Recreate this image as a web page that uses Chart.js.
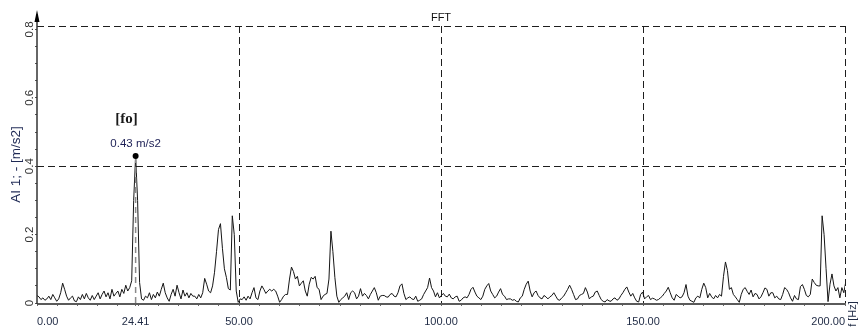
<!DOCTYPE html>
<html>
<head>
<meta charset="utf-8">
<script src="https://cdn.jsdelivr.net/npm/chart.js@4.4.1/dist/chart.umd.min.js"></script>
<style>
  html, body { margin: 0; padding: 0; background: #ffffff; }
  canvas { display: block; }
</style>
</head>
<body>
<canvas id="fft" width="859" height="331"></canvas>
<script>
// FFT spectrum of channel AI 1, bin spacing in Hz
const binHz = 0.48828125;

// amplitude per bin [m/s2], bins 0 .. 410
const amplitude = [
  0.022,0.018,0.010,0.015,0.008,0.012,0.020,0.010,0.025,0.015,0.005,0.012,0.030,0.058,0.040,0.020,0.008,0.015,0.020,0.006,
  0.004,0.018,0.010,0.025,0.012,0.028,0.015,0.008,0.022,0.010,0.020,0.030,0.012,0.025,0.035,0.018,0.030,0.012,0.040,0.020,
  0.028,0.035,0.018,0.040,0.028,0.052,0.035,0.045,0.065,0.300,0.430,0.300,0.060,0.012,0.008,0.020,0.015,0.030,0.010,0.025,
  0.015,0.032,0.020,0.040,0.058,0.030,0.015,0.005,0.025,0.040,0.020,0.052,0.030,0.012,0.038,0.020,0.030,0.015,0.028,0.020,
  0.020,0.012,0.025,0.015,0.030,0.072,0.055,0.035,0.030,0.050,0.090,0.150,0.215,0.232,0.160,0.100,0.075,0.042,0.038,0.255,
  0.200,0.035,0.002,0.012,0.010,0.018,0.008,0.020,0.012,0.030,0.045,0.015,0.010,0.035,0.050,0.040,0.028,0.035,0.040,0.035,
  0.040,0.035,0.020,0.002,0.010,0.020,0.025,0.025,0.070,0.105,0.092,0.070,0.078,0.050,0.058,0.065,0.035,0.020,0.055,0.075,
  0.070,0.078,0.045,0.040,0.010,0.020,0.025,0.028,0.070,0.210,0.150,0.075,0.020,0.002,0.010,0.015,0.020,0.030,0.010,0.030,
  0.035,0.030,0.012,0.020,0.042,0.020,0.028,0.022,0.012,0.025,0.035,0.045,0.030,0.008,0.020,0.022,0.022,0.018,0.017,0.025,
  0.028,0.020,0.018,0.030,0.050,0.056,0.028,0.010,0.015,0.018,0.012,0.010,0.020,0.005,0.008,0.012,0.025,0.035,0.045,0.073,
  0.045,0.035,0.018,0.030,0.015,0.022,0.028,0.020,0.018,0.026,0.015,0.012,0.018,0.020,0.005,0.008,0.015,0.018,0.015,0.025,
  0.040,0.046,0.032,0.020,0.015,0.010,0.020,0.040,0.050,0.057,0.035,0.025,0.015,0.020,0.032,0.042,0.025,0.020,0.010,0.012,
  0.012,0.008,0.010,0.005,0.003,0.015,0.020,0.040,0.055,0.064,0.035,0.018,0.030,0.035,0.022,0.015,0.012,0.022,0.018,0.012,
  0.018,0.022,0.030,0.020,0.010,0.008,0.015,0.020,0.030,0.040,0.052,0.040,0.025,0.010,0.012,0.022,0.025,0.028,0.045,0.032,
  0.012,0.018,0.020,0.032,0.035,0.022,0.010,0.005,0.003,0.010,0.006,0.005,0.012,0.015,0.008,0.012,0.022,0.030,0.040,0.047,
  0.032,0.020,0.028,0.015,0.005,0.003,0.025,0.032,0.012,0.018,0.022,0.010,0.014,0.012,0.008,0.010,0.015,0.020,0.028,0.035,
  0.046,0.030,0.015,0.008,0.025,0.020,0.015,0.018,0.030,0.054,0.020,0.008,0.005,0.002,0.015,0.020,0.015,0.040,0.058,0.045,
  0.015,0.028,0.018,0.012,0.022,0.015,0.025,0.020,0.078,0.120,0.095,0.040,0.045,0.025,0.018,0.010,0.002,0.025,0.040,0.045,
  0.034,0.025,0.038,0.018,0.028,0.025,0.012,0.018,0.030,0.044,0.040,0.020,0.030,0.030,0.015,0.020,0.012,0.010,0.025,0.045,
  0.040,0.030,0.015,0.005,0.022,0.012,0.010,0.048,0.054,0.040,0.022,0.018,0.025,0.070,0.060,0.052,0.050,0.050,0.255,0.200,
  0.100,0.004,0.055,0.085,0.050,0.035,0.045,0.015,0.045,0.030,0.062
];

// cursor on the fundamental
const peakFreq = 24.41;
const peakAmp = 0.43;
const peakUnit = 'm/s2';
const peakTag = '[fo]';

// axes
const xMin = 0, xMax = 200, xMinorStep = 5;
const xLabelValues = [0, 24.41, 50, 100, 150, 200];
const xTickLabels = ['0.00', '24.41', '50.00', '100.00', '150.00', '200.00'];
const xGridValues = [50, 100, 150, 200];
const yMin = 0, yMax = 0.81, yMinorStep = 0.05;
const yLabelValues = [0, 0.2, 0.4, 0.6, 0.8];
const yTickLabels = ['0', '0.2', '0.4', '0.6', '0.8'];
const yGridValues = [0.4, 0.81];
const chartTitle = 'FFT';
const yTitle = 'AI 1; - [m/s2]';
const xTitle = 'f [Hz]';

const near = (a, b) => Math.abs(a - b) < 1e-6;
const indexIn = (v, list) => list.findIndex(w => near(v, w));

function minorTicks(lo, hi, step, extra) {
  const out = [];
  for (let k = 0; lo + k * step <= hi + 1e-9; k++) out.push(+(lo + k * step).toFixed(4));
  extra.forEach(v => { if (indexIn(v, out) < 0) out.push(v); });
  return out.sort((a, b) => a - b);
}
const xTickValues = minorTicks(xMin, xMax, xMinorStep, [peakFreq]);
const yTickValues = minorTicks(yMin, 0.8, yMinorStep, [yMax]);

const spectrum = amplitude.map((a, i) => ({ x: i * binHz, y: a }));

const FONT = 'Liberation Sans, Arial, sans-serif';

const decorations = {
  id: 'decorations',
  afterDraw(chart) {
    const { ctx, chartArea: ca, scales: { x, y } } = chart;
    ctx.save();
    // axis lines
    ctx.strokeStyle = '#5a5a5a';
    ctx.lineWidth = 2;
    ctx.beginPath();
    ctx.moveTo(ca.left, ca.bottom + 1);
    ctx.lineTo(ca.right, ca.bottom + 1);
    ctx.stroke();
    ctx.strokeStyle = '#333';
    ctx.lineWidth = 1.5;
    ctx.beginPath();
    ctx.moveTo(ca.left, ca.bottom + 1);
    ctx.lineTo(ca.left, 14);
    ctx.stroke();
    // arrow head on the value axis
    ctx.fillStyle = '#000';
    ctx.beginPath();
    ctx.moveTo(ca.left, 10);
    ctx.lineTo(ca.left - 2.5, 22);
    ctx.lineTo(ca.left + 2.5, 22);
    ctx.closePath();
    ctx.fill();

    // title above the 100 Hz line
    ctx.fillStyle = '#111';
    ctx.font = '11px ' + FONT;
    ctx.textAlign = 'center';
    ctx.textBaseline = 'middle';
    ctx.fillText(chartTitle, x.getPixelForValue(100), 18);

    // frequency axis title, vertical at the right end
    ctx.save();
    ctx.translate(853, 314);
    ctx.rotate(-Math.PI / 2);
    ctx.fillStyle = '#1f2a44';
    ctx.fillText(xTitle, 0, 0);
    ctx.restore();

    // cursor annotation
    const px = x.getPixelForValue(peakFreq);
    const py = y.getPixelForValue(peakAmp);
    ctx.fillStyle = '#1c1f55';
    ctx.font = '11.5px ' + FONT;
    ctx.fillText(peakAmp.toFixed(2) + ' ' + peakUnit, px, py - 12);
    ctx.fillStyle = '#1a1a1a';
    ctx.font = 'bold 15px "Liberation Serif", "Times New Roman", serif';
    ctx.fillText(peakTag, px - 9, py - 37);
    ctx.restore();
  }
};

new Chart(document.getElementById('fft'), {
  type: 'line',
  data: {
    datasets: [
      {
        label: 'cursor point',
        data: [{ x: peakFreq, y: peakAmp }],
        showLine: false,
        pointRadius: 3,
        pointBackgroundColor: '#000',
        pointBorderColor: '#000',
        pointBorderWidth: 0
      },
      {
        label: 'cursor line',
        data: [{ x: peakFreq, y: 0 }, { x: peakFreq, y: peakAmp }],
        borderColor: '#8a8a8a',
        borderWidth: 1.5,
        borderDash: [6, 4],
        pointRadius: 0
      },
      {
        label: 'FFT',
        data: spectrum,
        borderColor: '#151515',
        borderWidth: 1,
        pointRadius: 0,
        tension: 0
      }
    ]
  },
  options: {
    responsive: false,
    animation: false,
    devicePixelRatio: 1,
    layout: { padding: { top: 26, right: 14, left: 0, bottom: 0 } },
    plugins: {
      legend: { display: false },
      tooltip: { enabled: false },
      title: { display: false }
    },
    scales: {
      x: {
        type: 'linear',
        min: xMin,
        max: xMax,
        afterBuildTicks: s => { s.ticks = xTickValues.map(v => ({ value: v })); },
        afterFit: s => { s.height = 28; },
        grid: {
          color: c => (c.tick && indexIn(c.tick.value, xGridValues) >= 0) ? '#1e1e1e' : 'rgba(0,0,0,0)',
          lineWidth: 1,
          drawTicks: true,
          tickLength: 3,
          tickColor: '#6a6a6a',
          tickWidth: 1
        },
        border: { display: false, dash: [7, 4] },
        ticks: {
          autoSkip: false,
          minRotation: 0,
          maxRotation: 0,
          align: 'inner',
          padding: 9,
          color: '#1f2a44',
          font: { family: FONT, size: 11 },
          callback: v => { const k = indexIn(v, xLabelValues); return k >= 0 ? xTickLabels[k] : ''; }
        }
      },
      y: {
        type: 'linear',
        min: yMin,
        max: yMax,
        afterBuildTicks: s => { s.ticks = yTickValues.map(v => ({ value: v })); },
        afterFit: s => { s.width = 37; },
        grid: {
          color: c => (c.tick && indexIn(c.tick.value, yGridValues) >= 0) ? '#1e1e1e' : 'rgba(0,0,0,0)',
          lineWidth: 1,
          drawTicks: true,
          tickLength: 2,
          tickColor: c => (c.tick && near(c.tick.value, yMax)) ? 'rgba(0,0,0,0)' : '#555',
          tickWidth: 1
        },
        border: { display: false, dash: [7, 4] },
        title: {
          display: true,
          text: yTitle,
          color: '#1f2a55',
          font: { family: FONT, size: 13.5 },
          padding: { top: 8, bottom: 0 }
        },
        ticks: {
          autoSkip: false,
          minRotation: 90,
          maxRotation: 90,
          crossAlign: 'center',
          padding: -3,
          color: '#333',
          font: { family: FONT, size: 11.5 },
          callback: v => { const k = indexIn(v, yLabelValues); return k >= 0 ? yTickLabels[k] : ''; }
        }
      }
    }
  },
  plugins: [decorations]
});
</script>
</body>
</html>
